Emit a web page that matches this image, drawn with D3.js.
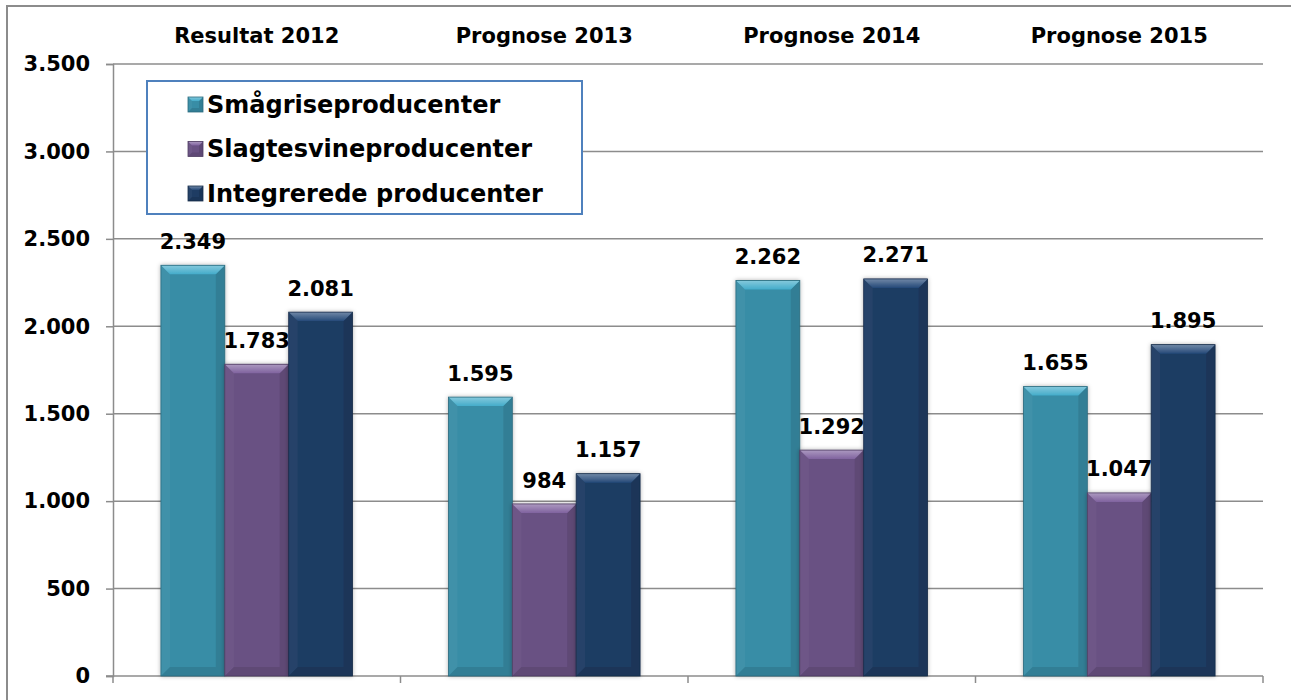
<!DOCTYPE html>
<html>
<head>
    <meta charset="UTF-8">
    <title>Resultat og prognose</title>
    <style>
        body { margin: 0; background: #fff; }
        text { font-family: "DejaVu Sans", Verdana, sans-serif; font-weight: bold; fill: #000; }
    </style>
</head>
<body>
    <div id="chart"></div>
    <script src="https://cdn.jsdelivr.net/npm/d3@7"></script>
    <script>

    // data
    const categories = ["Resultat 2012", "Prognose 2013", "Prognose 2014", "Prognose 2015"];
    const series = ["Smågriseproducenter", "Slagtesvineproducenter", "Integrerede producenter"];
    const smaagris = [2349, 1595, 2262, 1655];
    const slagtesvin = [1783, 984, 1292, 1047];
    const integrerede = [2081, 1157, 2271, 1895];
    const yTicks = [0, 500, 1000, 1500, 2000, 2500, 3000, 3500];
    const colors = ["#388da6", "#695183", "#1e3c63"];

    const values = [smaagris, slagtesvin, integrerede];

    const width = 1291, height = 700;
    const margin = {top: 64, right: 28, bottom: 24, left: 113};

    const svg = d3.select("#chart")
        .append("svg")
        .attr("width", width)
        .attr("height", height);

    const defs = svg.append("defs");
    const shadow = defs.append("filter")
        .attr("id", "shadow")
        .attr("x", "-20%").attr("y", "-20%")
        .attr("width", "140%").attr("height", "140%");
    shadow.append("feDropShadow")
        .attr("dx", 0).attr("dy", 0)
        .attr("stdDeviation", 2.2)
        .attr("flood-color", "#000")
        .attr("flood-opacity", 0.3);

    const hi = defs.append("linearGradient")
        .attr("id", "hi")
        .attr("x1", 0).attr("y1", 0).attr("x2", 0).attr("y2", 1);
    hi.append("stop").attr("offset", "0%").attr("stop-color", "#fff").attr("stop-opacity", 0.35);
    hi.append("stop").attr("offset", "100%").attr("stop-color", "#fff").attr("stop-opacity", 0.0);

    // outer frame (only top and left edges are visible)
    svg.append("path")
        .attr("d", `M7,${height} L7,6 L${width},6`)
        .style("fill", "none")
        .style("stroke", "#8c8c8c")
        .style("stroke-width", 2);

    const x0 = d3.scaleBand()
        .domain(categories)
        .range([margin.left, width - margin.right])
        .paddingInner(0).paddingOuter(0);

    const x1 = d3.scaleBand()
        .domain(series)
        .range([0, x0.bandwidth()])
        .paddingInner(0).paddingOuter(0.75);

    const y = d3.scaleLinear()
        .domain([0, 3500])
        .range([height - margin.bottom, margin.top]);

    const locale = d3.formatLocale({decimal: ",", thousands: ".", grouping: [3], currency: ["", ""]});
    const fmt = locale.format(",d");

    // gridlines
    svg.append("g")
        .selectAll("line")
        .data(yTicks.filter(d => d > 0))
        .join("line")
        .attr("x1", margin.left)
        .attr("x2", width - margin.right)
        .attr("y1", d => y(d))
        .attr("y2", d => y(d))
        .style("stroke", "#8c8c8c")
        .style("stroke-width", 1.5);

    // y axis
    const yAxis = svg.append("g")
        .attr("transform", `translate(${margin.left},0)`)
        .call(d3.axisLeft(y).tickValues(yTicks).tickFormat(fmt).tickSize(7).tickPadding(16));
    yAxis.select(".domain").style("stroke", "#8c8c8c").style("stroke-width", 1.5);
    yAxis.selectAll(".tick line").style("stroke", "#8c8c8c").style("stroke-width", 1.5);
    yAxis.selectAll(".tick text")
        .style("font-family", "'DejaVu Sans', Verdana, sans-serif")
        .style("font-weight", "bold")
        .style("font-size", "21px")
        .style("fill", "#000");

    // x axis at the bottom, ticks between categories, no labels
    const xAxis = svg.append("g")
        .attr("transform", `translate(0,${y(0)})`)
        .call(d3.axisBottom(x0).tickSize(0).tickFormat(""));
    xAxis.select(".domain").remove();
    xAxis.append("line")
        .attr("x1", margin.left - 7).attr("x2", width - margin.right)
        .style("stroke", "#8c8c8c").style("stroke-width", 1.5);
    xAxis.selectAll("line.sep")
        .data(categories.concat(["end"]))
        .join("line")
        .attr("class", "sep")
        .attr("x1", (d, i) => i < categories.length ? x0(d) : x0.range()[1])
        .attr("x2", (d, i) => i < categories.length ? x0(d) : x0.range()[1])
        .attr("y1", 0).attr("y2", 7)
        .style("stroke", "#8c8c8c").style("stroke-width", 1.5);

    // category labels at the top
    svg.append("g")
        .selectAll("text")
        .data(categories)
        .join("text")
        .attr("x", d => x0(d) + x0.bandwidth() / 2)
        .attr("y", 43)
        .attr("text-anchor", "middle")
        .style("font-size", "21px")
        .text(d => d);

    // beveled bar
    function bevelBar(g, bx, by, bw, bh, color, b) {
        g.append("rect")
            .attr("x", bx).attr("y", by).attr("width", bw).attr("height", bh)
            .style("fill", color);
        const bb = Math.min(b, bh / 2);
        // left side
        g.append("path")
            .attr("d", `M${bx},${by} L${bx + bb},${by + bb} L${bx + bb},${by + bh - bb} L${bx},${by + bh} Z`)
            .style("fill", "#fff").style("opacity", 0.04);
        // right side
        g.append("path")
            .attr("d", `M${bx + bw},${by} L${bx + bw - bb},${by + bb} L${bx + bw - bb},${by + bh - bb} L${bx + bw},${by + bh} Z`)
            .style("fill", "#000").style("opacity", 0.1);
        // bottom
        g.append("path")
            .attr("d", `M${bx},${by + bh} L${bx + bb},${by + bh - bb} L${bx + bw - bb},${by + bh - bb} L${bx + bw},${by + bh} Z`)
            .style("fill", "#000").style("opacity", 0.1);
        // top highlight
        g.append("path")
            .attr("d", `M${bx},${by} L${bx + bw},${by} L${bx + bw - bb},${by + bb} L${bx + bb},${by + bb} Z`)
            .style("fill", d3.color(color).brighter(0.55));
        g.append("path")
            .attr("d", `M${bx},${by} L${bx + bw},${by} L${bx + bw - bb},${by + bb} L${bx + bb},${by + bb} Z`)
            .style("fill", "url(#hi)");
        g.append("rect")
            .attr("x", bx).attr("y", by).attr("width", bw).attr("height", bh)
            .style("fill", "none").style("stroke", d3.color(color).darker(0.8)).style("stroke-width", 0.8);
    }

    const bars = svg.append("g");
    categories.forEach((cat, ci) => {
        series.forEach((s, si) => {
            const v = values[si][ci];
            const g = bars.append("g").attr("filter", "url(#shadow)");
            const bx = x0(cat) + x1(s);
            bevelBar(g, bx, y(v), x1.bandwidth(), y(0) - y(v), colors[si], 9);
        });
    });

    // data labels
    const labels = svg.append("g");
    categories.forEach((cat, ci) => {
        series.forEach((s, si) => {
            const v = values[si][ci];
            labels.append("text")
                .attr("x", x0(cat) + x1(s) + x1.bandwidth() / 2)
                .attr("y", y(v) - 24)
                .attr("dy", "0.36em")
                .attr("text-anchor", "middle")
                .style("font-size", "21px")
                .text(fmt(v));
        });
    });

    // legend
    const legend = svg.append("g");
    legend.append("rect")
        .attr("x", 147).attr("y", 81)
        .attr("width", 435).attr("height", 133)
        .style("fill", "#fff")
        .style("stroke", "#4f81bd")
        .style("stroke-width", 2);
    const rowY = d3.scalePoint().domain(series).range([104, 193]);
    series.forEach((s, si) => {
        const g = legend.append("g");
        bevelBar(g, 188, rowY(s) - 7, 15, 15, colors[si], 4);
        legend.append("text")
            .attr("x", 207)
            .attr("y", rowY(s))
            .attr("dy", "0.36em")
            .style("font-size", "24px")
            .text(s);
    });

    </script>
</body>
</html>
